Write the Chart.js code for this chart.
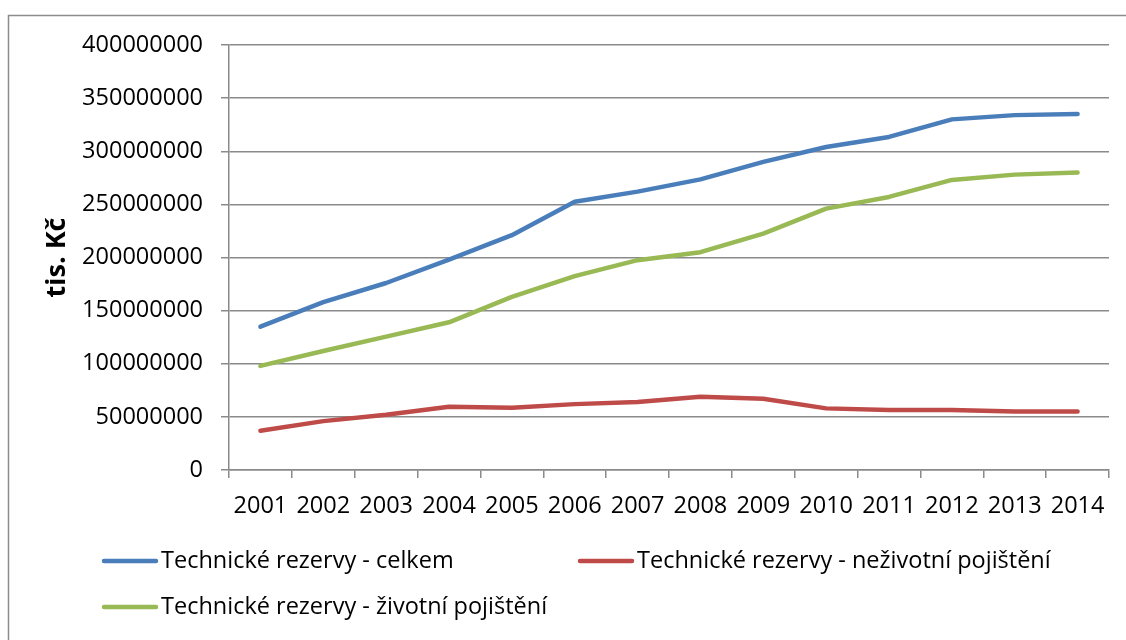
<!DOCTYPE html>
<html>
<head>
<meta charset="utf-8">
<script src="https://cdn.jsdelivr.net/npm/chart.js@4/dist/chart.umd.min.js"></script>
<style>
  html, body { margin: 0; padding: 0; background: #ffffff; }
  #wrap { width: 1126px; height: 640px; }
  canvas { display: block; }
</style>
</head>
<body>
<div id="wrap"><canvas id="chart" width="1126" height="640"></canvas></div>
<script>
// Technické rezervy pojišťoven, tis. Kč
const years = ['2001','2002','2003','2004','2005','2006','2007','2008','2009','2010','2011','2012','2013','2014'];
const celkem = [135e6, 158e6, 176e6, 198e6, 221e6, 252.5e6, 262e6, 273.5e6, 290e6, 304e6, 313.5e6, 330e6, 334e6, 335e6];
const nezivotni = [37e6, 46e6, 52e6, 59.5e6, 58.5e6, 62e6, 64e6, 69e6, 67e6, 58e6, 56.5e6, 56.5e6, 55e6, 55e6];
const zivotni = [98e6, 112e6, 125.5e6, 139e6, 163e6, 182.5e6, 197.5e6, 205e6, 222.5e6, 246e6, 257e6, 273e6, 278e6, 280e6];
const seriesNames = ['Technické rezervy - celkem', 'Technické rezervy - neživotní pojištění', 'Technické rezervy - životní pojištění'];
const yTicks = [0, 50000000, 100000000, 150000000, 200000000, 250000000, 300000000, 350000000, 400000000];
const yTitle = 'tis. Kč';

const FONT = "'Open Sans', 'DejaVu Sans', sans-serif";
const GRID = '#8a8a8a';

// thin frame around the whole chart object
const framePlugin = {
  id: 'frame',
  beforeDraw(chart) {
    const ctx = chart.ctx;
    ctx.save();
    ctx.strokeStyle = '#8c8c8c';
    ctx.lineWidth = 1.5;
    ctx.strokeRect(8.5, 15.5, 1300, 800);
    ctx.restore();
  }
};

// legend laid out on a two-column grid
const gridLegend = {
  id: 'gridLegend',
  afterDraw(chart, args, opts) {
    const ctx = chart.ctx;
    ctx.save();
    ctx.font = opts.font;
    ctx.textBaseline = 'middle';
    ctx.textAlign = 'left';
    chart.data.datasets.forEach((ds, i) => {
      const slot = opts.slots[i];
      ctx.strokeStyle = ds.borderColor;
      ctx.lineWidth = ds.borderWidth;
      ctx.lineCap = 'round';
      ctx.beginPath();
      ctx.moveTo(slot.x + 2, slot.y);
      ctx.lineTo(slot.x + opts.lineLength - 2, slot.y);
      ctx.stroke();
      ctx.fillStyle = '#000000';
      ctx.fillText(ds.label, slot.x + opts.lineLength + opts.gap, slot.y);
    });
    ctx.restore();
  }
};

const lineStyle = (color) => ({
  borderColor: color,
  backgroundColor: color,
  borderWidth: 4.5,
  borderCapStyle: 'round',
  borderJoinStyle: 'round',
  pointRadius: 0,
  pointHoverRadius: 0,
  tension: 0,
  fill: false
});

new Chart(document.getElementById('chart'), {
  type: 'line',
  data: {
    labels: years,
    datasets: [
      Object.assign({ label: seriesNames[0], data: celkem }, lineStyle('#4a7ebb')),
      Object.assign({ label: seriesNames[1], data: nezivotni }, lineStyle('#be4b48')),
      Object.assign({ label: seriesNames[2], data: zivotni }, lineStyle('#98b954'))
    ]
  },
  options: {
    responsive: false,
    animation: false,
    devicePixelRatio: 1,
    layout: { padding: { left: 0, right: 17, top: 45, bottom: 120 } },
    plugins: {
      legend: { display: false },
      tooltip: { enabled: false },
      gridLegend: {
        font: "23.5px " + FONT,
        lineLength: 56,
        gap: 3,
        slots: [ { x: 102, y: 561 }, { x: 578, y: 561 }, { x: 102, y: 607 } ]
      }
    },
    scales: {
      x: {
        type: 'category',
        offset: true,
        grid: {
          offset: true,
          drawOnChartArea: false,
          drawTicks: true,
          tickLength: 8,
          color: GRID,
          lineWidth: 1.5
        },
        border: { display: true, color: GRID, width: 1.5 },
        ticks: {
          color: '#000000',
          font: { family: FONT, size: 23.5 },
          padding: 14,
          maxRotation: 0,
          autoSkip: false
        },
        afterFit(scale) { scale.height = 50; }
      },
      y: {
        min: 0,
        max: 400000000,
        afterBuildTicks(scale) { scale.ticks = yTicks.map(v => ({ value: v })); },
        grid: {
          color: GRID,
          lineWidth: 1.5,
          drawTicks: true,
          tickLength: 8
        },
        border: { display: true, color: GRID, width: 1.5 },
        ticks: {
          color: '#000000',
          font: { family: FONT, size: 23.5 },
          padding: 18,
          callback: (v) => String(v)
        },
        title: {
          display: true,
          text: yTitle,
          color: '#000000',
          font: { family: FONT, size: 27, weight: 'bold' },
          padding: { top: 41, bottom: 0 }
        },
        afterFit(scale) { scale.width = 229; }
      }
    }
  },
  plugins: [framePlugin, gridLegend]
});
</script>
</body>
</html>
